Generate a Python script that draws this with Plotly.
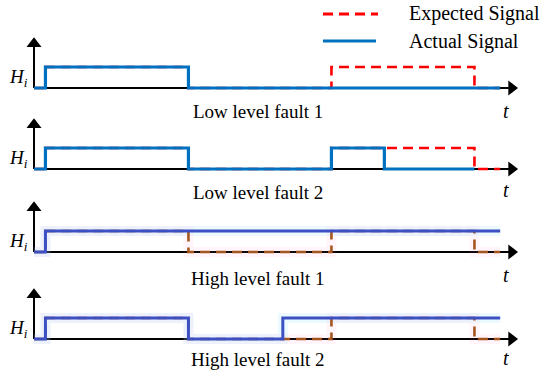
import plotly.graph_objects as go

# ---------------- data ----------------
t_expected = [0, 0.8, 10.8, 20.8, 30.8, 32.6]
h_expected = [0, 1, 0, 1, 0, 0]

t_actual_low1 = [0, 0.8, 10.8, 32.6]
h_actual_low1 = [0, 1, 0, 0]
t_actual_low2 = [0, 0.8, 10.8, 20.8, 24.5, 30.8]
h_actual_low2 = [0, 1, 0, 1, 0, 0]
t_actual_high1 = [0, 0.8, 32.6]
h_actual_high1 = [0, 1, 1]
t_actual_high2 = [0, 0.8, 10.8, 17.4, 32.6]
h_actual_high2 = [0, 1, 0, 1, 1]

panel_titles = ["Low level fault 1", "Low level fault 2",
                "High level fault 1", "High level fault 2"]
legend_labels = ["Expected Signal", "Actual Signal"]

actual_t = [t_actual_low1, t_actual_low2, t_actual_high1, t_actual_high2]
actual_h = [h_actual_low1, h_actual_low2, h_actual_high1, h_actual_high2]

# ---------------- layout helpers ----------------
W, H = 550, 375
PX_PER_T = 14.3
ORIGIN_PX = 34
baselines = [88, 169, 252, 339]     # pixel rows of each panel's baseline
label_px = [111, 192, 278, 359]
tlabel_px = [111, 190, 275, 358]
UNIT = 21                            # pixels per unit of H
YR = [-0.5, 2.5]

FONT = "Liberation Serif, Times New Roman, serif"
BLUE = "#0070c0"
RED = "#ff0000"
BLUE_H = "#3c50c4"
BROWN = "#a4561e"
DASH = "10px,6px"

xrange = [-ORIGIN_PX / PX_PER_T, (W - ORIGIN_PX) / PX_PER_T]
x_tip = (517 - ORIGIN_PX) / PX_PER_T
y_tip = 2.38

fig = go.Figure()
layout = dict(width=W, height=H, margin=dict(l=0, r=0, t=0, b=0),
              paper_bgcolor="white", plot_bgcolor="white", showlegend=False)
shapes, annotations = [], []


def txt(xpx, ypx, text, size, xanchor="center"):
    return dict(xref="paper", yref="paper", x=xpx / W, y=(H - ypx) / H,
                xanchor=xanchor, yanchor="middle", text=text, showarrow=False,
                font=dict(family=FONT, size=size, color="black"))


for i in range(4):
    k = "" if i == 0 else str(i + 1)
    xa, ya = "x" + k, "y" + k
    B = baselines[i]
    bottom = (H - (B + 0.5 * UNIT)) / H
    top = (H - (B - 2.5 * UNIT)) / H
    layout["xaxis" + k] = dict(domain=[0, 1], range=xrange, visible=False,
                               fixedrange=True, anchor=ya)
    layout["yaxis" + k] = dict(domain=[bottom, top], range=YR, visible=False,
                               fixedrange=True, anchor=xa)
    high = i >= 2
    ec = BROWN if high else RED
    ac = BLUE_H if high else BLUE
    if high:
        # soft glow under the lines
        fig.add_trace(go.Scatter(x=t_expected, y=h_expected, mode="lines",
                                 line=dict(color="rgba(255,120,190,0.07)", width=10, shape="hv"),
                                 xaxis=xa, yaxis=ya, hoverinfo="skip"))
        fig.add_trace(go.Scatter(x=actual_t[i], y=actual_h[i], mode="lines",
                                 line=dict(color="rgba(150,230,255,0.18)", width=10, shape="hv"),
                                 xaxis=xa, yaxis=ya, hoverinfo="skip"))
    fig.add_trace(go.Scatter(x=t_expected, y=h_expected, mode="lines",
                             line=dict(color=ec, width=2.6, dash=DASH, shape="hv"),
                             xaxis=xa, yaxis=ya, name=legend_labels[0]))
    fig.add_trace(go.Scatter(x=actual_t[i], y=actual_h[i], mode="lines",
                             line=dict(color=ac, width=3.2 if not high else 3.0, shape="hv"),
                             xaxis=xa, yaxis=ya, name=legend_labels[1]))
    # axis arrow heads
    fig.add_trace(go.Scatter(x=[x_tip - 0.38], y=[0], mode="markers",
                             marker=dict(symbol="triangle-right", size=13, color="black",
                                         line=dict(width=0)),
                             xaxis=xa, yaxis=ya, hoverinfo="skip"))
    fig.add_trace(go.Scatter(x=[0], y=[y_tip - 0.27], mode="markers",
                             marker=dict(symbol="triangle-up", size=13, color="black",
                                         line=dict(width=0)),
                             xaxis=xa, yaxis=ya, hoverinfo="skip"))
    # axes lines (below traces)
    shapes.append(dict(type="line", xref=xa, yref=ya, x0=0, y0=0, x1=x_tip - 0.4, y1=0,
                       line=dict(color="black", width=2), layer="below"))
    shapes.append(dict(type="line", xref=xa, yref=ya, x0=0, y0=0, x1=0, y1=y_tip - 0.3,
                       line=dict(color="black", width=2), layer="below"))
    # texts
    annotations.append(txt(18, B - 10, "<i>H</i><sub><i>i</i></sub>", 19))
    annotations.append(txt(258, label_px[i], panel_titles[i], 19))
    annotations.append(txt(506, tlabel_px[i], "<i>t</i>", 20))

# legend (drawn manually)
shapes.append(dict(type="line", xref="paper", yref="paper", x0=323 / W, x1=378 / W,
                   y0=(H - 14) / H, y1=(H - 14) / H, line=dict(color=RED, width=3, dash=DASH)))
shapes.append(dict(type="line", xref="paper", yref="paper", x0=323 / W, x1=376 / W,
                   y0=(H - 41) / H, y1=(H - 41) / H, line=dict(color=BLUE, width=3)))
annotations.append(txt(407, 14, legend_labels[0], 20, xanchor="left"))
annotations.append(txt(407, 42, legend_labels[1], 20, xanchor="left"))

layout["shapes"] = shapes
layout["annotations"] = annotations
fig.update_layout(**layout)
fig.write_html("out.html", config={"displayModeBar": False},
               post_script=["document.body.style.margin='0';"])
